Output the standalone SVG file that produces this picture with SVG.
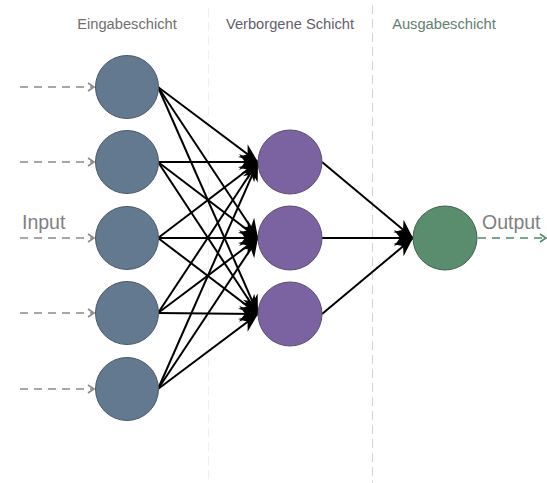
<svg xmlns="http://www.w3.org/2000/svg" width="547" height="483" viewBox="0 0 547 483">
  <style>
    .title { font-family: "Liberation Sans", Arial, sans-serif; font-size: 14.7px; text-anchor: middle; }
    .io { font-family: "Liberation Sans", Arial, sans-serif; font-size: 19.5px; fill: #808080; }
    .in-node { fill: #62798f; stroke: #4b5866; stroke-width: 1; }
    .hid-node { fill: #7a63a0; stroke: #5a4e6e; stroke-width: 1; }
    .out-node { fill: #5a8c6e; stroke: #46604f; stroke-width: 1; }
    .edge { stroke: #000; stroke-width: 2; fill: none; marker-end: url(#classic); }
    .feed { stroke: #8a8a8a; stroke-width: 1.6; stroke-dasharray: 8 6; fill: none; marker-end: url(#open-gray); }
    .emit { stroke: #4e8a68; stroke-width: 1.6; stroke-dasharray: 8 6; fill: none; marker-end: url(#open-green); }
    .sep { stroke: #d2d2d2; stroke-width: 1; stroke-dasharray: 9 5; }
    .sep-faint { stroke: #f0f0f0; stroke-width: 1; stroke-dasharray: 9 5; }
  </style>
  <defs>
    <marker id="classic" viewBox="-21 -10 22 20" refX="0" refY="0" markerWidth="22" markerHeight="20" markerUnits="userSpaceOnUse" orient="auto">
      <path d="M0,0 L-19,-8 L-13,0 L-19,8 Z" fill="#000"/>
    </marker>
    <marker id="open-gray" viewBox="-8 -6 10 12" refX="0" refY="0" markerWidth="10" markerHeight="12" markerUnits="userSpaceOnUse" orient="auto">
      <path d="M-6,-4 L0,0 L-6,4" fill="none" stroke="#8a8a8a" stroke-width="1.6"/>
    </marker>
    <marker id="open-green" viewBox="-8 -6 10 12" refX="0" refY="0" markerWidth="10" markerHeight="12" markerUnits="userSpaceOnUse" orient="auto">
      <path d="M-6,-4 L0,0 L-6,4" fill="none" stroke="#4e8a68" stroke-width="1.6"/>
    </marker>
  </defs>

  <rect width="547" height="483" fill="#ffffff"/>

  <!-- layer separators -->
  <g id="separators">
    <line class="sep-faint" x1="208.5" y1="8" x2="208.5" y2="483"/>
    <line class="sep" x1="372.5" y1="5" x2="372.5" y2="483"/>
  </g>

  <!-- layer titles -->
  <g id="titles">
    <text class="title" x="127" y="29" fill="#707070">Eingabeschicht</text>
    <text class="title" x="290" y="29" fill="#625e6a">Verborgene Schicht</text>
    <text class="title" x="444" y="29" fill="#628070">Ausgabeschicht</text>
  </g>

  <!-- connectors -->
  <g id="connectors">
    <!-- incoming signals -->
    <line class="feed" x1="20" y1="87" x2="94" y2="87"/>
    <line class="feed" x1="20" y1="162" x2="94" y2="162"/>
    <line class="feed" x1="20" y1="238" x2="94" y2="238"/>
    <line class="feed" x1="20" y1="313" x2="94" y2="313"/>
    <line class="feed" x1="20" y1="389" x2="94" y2="389"/>

    <!-- input layer to hidden layer -->
    <line class="edge" x1="158" y1="87" x2="258" y2="162"/>
    <line class="edge" x1="158" y1="87" x2="258" y2="238"/>
    <line class="edge" x1="158" y1="87" x2="258" y2="314"/>
    <line class="edge" x1="158" y1="162" x2="258" y2="162"/>
    <line class="edge" x1="158" y1="162" x2="258" y2="238"/>
    <line class="edge" x1="158" y1="162" x2="258" y2="314"/>
    <line class="edge" x1="158" y1="238" x2="258" y2="162"/>
    <line class="edge" x1="158" y1="238" x2="258" y2="238"/>
    <line class="edge" x1="158" y1="238" x2="258" y2="314"/>
    <line class="edge" x1="158" y1="313" x2="258" y2="162"/>
    <line class="edge" x1="158" y1="313" x2="258" y2="238"/>
    <line class="edge" x1="158" y1="313" x2="258" y2="314"/>
    <line class="edge" x1="158" y1="389" x2="258" y2="162"/>
    <line class="edge" x1="158" y1="389" x2="258" y2="238"/>
    <line class="edge" x1="158" y1="389" x2="258" y2="314"/>

    <!-- hidden layer to output -->
    <line class="edge" x1="322" y1="162" x2="413" y2="238"/>
    <line class="edge" x1="322" y1="238" x2="413" y2="238"/>
    <line class="edge" x1="322" y1="314" x2="413" y2="238"/>

    <!-- outgoing signal -->
    <line class="emit" x1="478" y1="238" x2="546" y2="238"/>
  </g>

  <!-- input layer -->
  <g id="in1"><circle class="in-node" cx="127" cy="87" r="31.5"/></g>
  <g id="in2"><circle class="in-node" cx="127" cy="162" r="31.5"/></g>
  <g id="in3"><circle class="in-node" cx="127" cy="238" r="31.5"/></g>
  <g id="in4"><circle class="in-node" cx="127" cy="313" r="31.5"/></g>
  <g id="in5"><circle class="in-node" cx="127" cy="389" r="31.5"/></g>

  <!-- hidden layer -->
  <g id="hid1"><circle class="hid-node" cx="290" cy="162" r="32"/></g>
  <g id="hid2"><circle class="hid-node" cx="290" cy="238" r="32"/></g>
  <g id="hid3"><circle class="hid-node" cx="290" cy="314" r="32"/></g>

  <!-- output layer -->
  <g id="out1"><circle class="out-node" cx="445" cy="238" r="32"/></g>

  <!-- signal labels -->
  <g id="label-input"><text class="io" x="22" y="229">Input</text></g>
  <g id="label-output"><text class="io" x="482" y="229">Output</text></g>
</svg>
